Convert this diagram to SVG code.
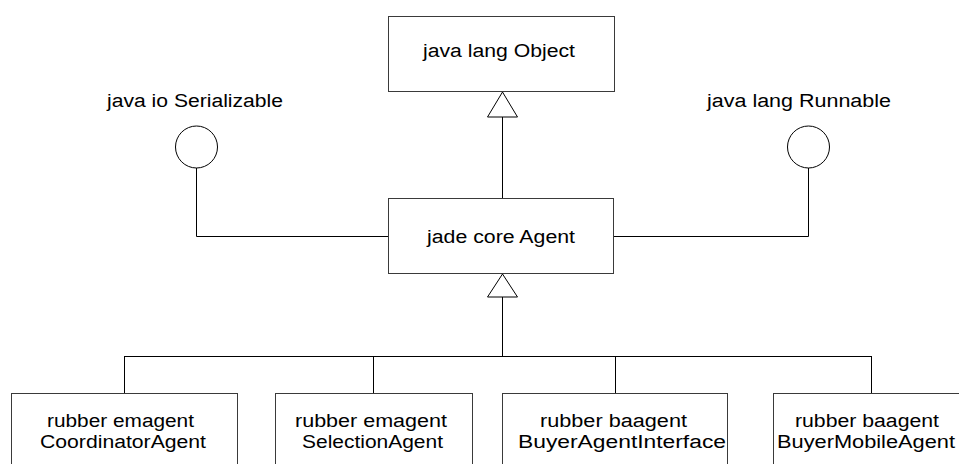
<svg xmlns="http://www.w3.org/2000/svg" width="959" height="464" viewBox="0 0 959 464">
<style>
.box{fill:#fff;stroke:#3a3a3a;stroke-width:1}
.ln{fill:none;stroke:#000;stroke-width:1}
.tri{fill:#fff;stroke:#000;stroke-width:1}
.lollipop{fill:#fff;stroke:#000;stroke-width:1}
text{font-family:"Liberation Sans",Arial,sans-serif;font-size:18px;fill:#000}
</style>
<rect width="959" height="464" fill="#fff"/>
<g id="connectors">
<path class="ln" d="M502.5 117 V198"/>
<path class="tri" d="M502.5 92 L487.5 117 L517.5 117 Z"/>
<path class="ln" d="M502.5 297 V356.5 M124.5 356.5 H871.5 M124.5 356 V393 M373.5 356 V393 M615.5 356 V393 M871.5 356 V393"/>
<path class="tri" d="M502.5 274 L487.5 297 L517.5 297 Z"/>
<path class="ln" d="M196.5 168 V236.5 H388"/>
<path class="ln" d="M808.5 168 V236.5 H614"/>
</g>
<g id="object">
<rect class="box" x="388.5" y="16.5" width="226" height="75"/>
<text x="423" y="57" textLength="152" lengthAdjust="spacingAndGlyphs">java lang Object</text>
</g>
<g id="serializable">
<circle class="lollipop" cx="196.5" cy="147" r="21"/>
<text x="107" y="107" textLength="176" lengthAdjust="spacingAndGlyphs">java io Serializable</text>
</g>
<g id="runnable">
<circle class="lollipop" cx="808.5" cy="147" r="21"/>
<text x="707" y="107" textLength="184" lengthAdjust="spacingAndGlyphs">java lang Runnable</text>
</g>
<g id="agent">
<rect class="box" x="388.5" y="198.5" width="225" height="75"/>
<text x="427" y="243" textLength="148" lengthAdjust="spacingAndGlyphs">jade core Agent</text>
</g>
<g id="coordinator">
<rect class="box" x="11.5" y="393.5" width="226" height="100"/>
<text x="47" y="427" textLength="147" lengthAdjust="spacingAndGlyphs">rubber emagent</text>
<text x="40" y="448" textLength="166" lengthAdjust="spacingAndGlyphs">CoordinatorAgent</text>
</g>
<g id="selection">
<rect class="box" x="275.5" y="393.5" width="197" height="100"/>
<text x="295" y="427" textLength="152" lengthAdjust="spacingAndGlyphs">rubber emagent</text>
<text x="302" y="448" textLength="141" lengthAdjust="spacingAndGlyphs">SelectionAgent</text>
</g>
<g id="buyerinterface">
<rect class="box" x="502.5" y="393.5" width="225" height="100"/>
<text x="540" y="427" textLength="147" lengthAdjust="spacingAndGlyphs">rubber baagent</text>
<text x="518" y="448" textLength="208" lengthAdjust="spacingAndGlyphs">BuyerAgentInterface</text>
</g>
<g id="buyermobile">
<rect class="box" x="773.5" y="393.5" width="230" height="100"/>
<text x="795" y="427" textLength="144" lengthAdjust="spacingAndGlyphs">rubber baagent</text>
<text x="777" y="448" textLength="178" lengthAdjust="spacingAndGlyphs">BuyerMobileAgent</text>
</g>
</svg>
